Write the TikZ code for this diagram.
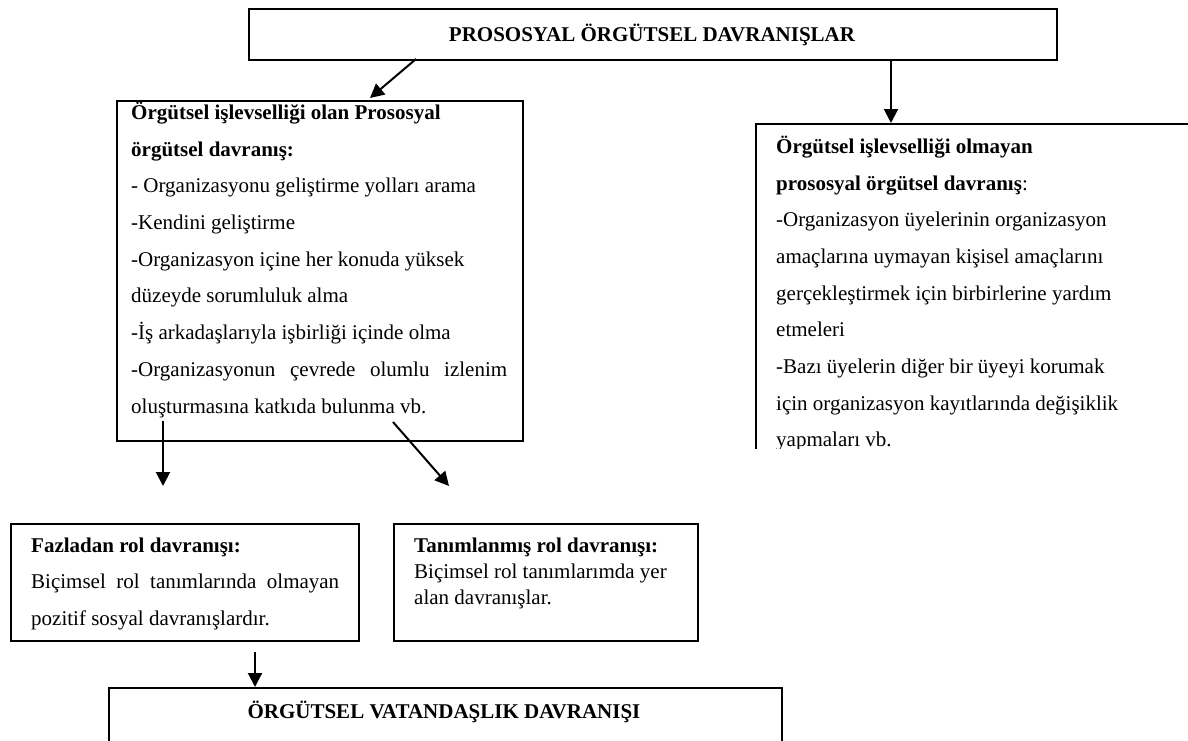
\documentclass[tikz,border=0pt]{standalone}
\usepackage{fontspec}
\setmainfont{Liberation Serif}
\usetikzlibrary{arrows.meta}
\begin{document}
\begin{tikzpicture}[x=1pt,y=-1pt,
  box/.style={draw, line width=1.8pt, inner sep=0pt, anchor=north west},
  txt/.style={inner sep=0pt, anchor=base west, font=\fontsize{21}{25}\selectfont},
  btxt/.style={txt, font=\fontsize{21}{25}\selectfont\bfseries},
  ttl/.style={inner sep=0pt, anchor=base, font=\fontsize{21}{25}\selectfont\bfseries},
  arr/.style={line width=2pt, -{Triangle[width=14pt,length=14pt]}}]
\useasboundingbox (0,0) rectangle (1188,740);
\fill[white] (0,0) rectangle (1188,740);
\clip (0,0) rectangle (1188,740);

% top box
\node[box, minimum width=808pt, minimum height=51pt] (top) at (248,8) {};
\node[ttl] (toptxt) at (652,41) {PROSOSYAL ÖRGÜTSEL DAVRANIŞLAR};

% left box
\node[box, minimum width=406pt, minimum height=340pt] (left) at (116,100) {};
\node[btxt] (l1) at (131,119) {Örgütsel işlevselliği olan Prososyal};
\node[btxt] (l2) at (131,156) {örgütsel davranış:};
\node[txt] (l3) at (131,192) {- Organizasyonu geliştirme yolları arama};
\node[txt] (l4) at (131,229) {-Kendini geliştirme};
\node[txt] (l5) at (131,266) {-Organizasyon içine her konuda yüksek};
\node[txt] (l6) at (131,302) {düzeyde sorumluluk alma};
\node[txt] (l7) at (131,339) {-İş arkadaşlarıyla işbirliği içinde olma};
\node[txt] (l8) at (131,376) {\makebox[376pt][s]{-Organizasyonun çevrede olumlu izlenim}};
\node[txt] (l9) at (131,413) {oluşturmasına katkıda bulunma vb.};

% right box (cut off at the edges of the picture)
\begin{scope}
\clip (740,100) rectangle (1188,448);
\node[box, minimum width=500pt, minimum height=400pt] (right) at (755,123) {};
\node[btxt] (r1) at (776,153) {Örgütsel işlevselliği olmayan};
\node[txt] (r2) at (776,190) {\textbf{prososyal örgütsel davranış}:};
\node[txt] (r3) at (776,226) {-Organizasyon üyelerinin organizasyon};
\node[txt] (r4) at (776,263) {amaçlarına uymayan kişisel amaçlarını};
\node[txt] (r5) at (776,300) {gerçekleştirmek için birbirlerine yardım};
\node[txt] (r6) at (776,336) {etmeleri};
\node[txt] (r7) at (776,373) {-Bazı üyelerin diğer bir üyeyi korumak};
\node[txt] (r8) at (776,410) {için organizasyon kayıtlarında değişiklik};
\node[txt] (r9) at (776,446) {yapmaları vb.};
\end{scope}

% Fazladan box
\node[box, minimum width=348pt, minimum height=117pt] (faz) at (10,523) {};
\node[btxt] (f1) at (31,552) {Fazladan rol davranışı:};
\node[txt] (f2) at (31,588) {\makebox[308pt][s]{Biçimsel rol tanımlarında olmayan}};
\node[txt] (f3) at (31,625) {pozitif sosyal davranışlardır.};

% Tanimlanmis box
\node[box, minimum width=304pt, minimum height=117pt] (tan) at (393,523) {};
\node[btxt] (t1) at (414,552) {Tanımlanmış rol davranışı:};
\node[txt] (t2) at (414,578) {Biçimsel rol tanımlarımda yer};
\node[txt] (t3) at (414,604) {alan davranışlar.};

% bottom box
\node[box, minimum width=673pt, minimum height=120pt] (bot) at (108,687) {};
\node[ttl] (bottxt) at (444,718) {ÖRGÜTSEL VATANDAŞLIK DAVRANIŞI};

% arrow end points
\coordinate (a1s) at (416,59);
\coordinate (a1e) at (370,98);
\coordinate (a2s) at (891,59);
\coordinate (a2e) at (891,123);
\coordinate (a3s) at (163,421);
\coordinate (a3e) at (163,486);
\coordinate (a4s) at (393,422);
\coordinate (a4e) at (449,486);
\coordinate (a5s) at (255,652);
\coordinate (a5e) at (255,687);

\draw[arr] (a1s) -- (a1e);
\draw[arr] (a2s) -- (a2e);
\draw[arr] (a3s) -- (a3e);
\draw[arr] (a4s) -- (a4e);
\draw[arr] (a5s) -- (a5e);
\end{tikzpicture}
\end{document}
